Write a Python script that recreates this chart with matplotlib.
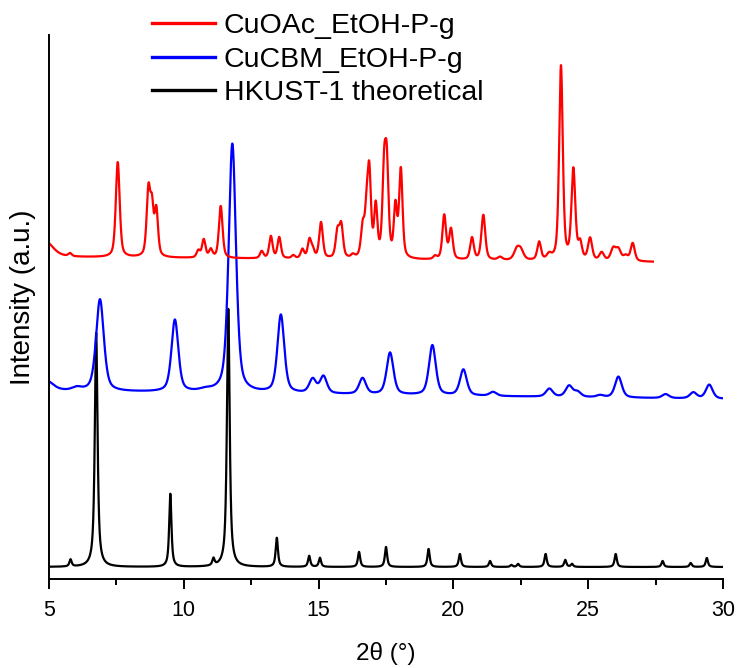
import numpy as np
import matplotlib.pyplot as plt

# =========================
# Peak tables (2theta, height, FWHM)
# heights in plot units (a.u.)
# =========================
labels = ["CuOAc_EtOH-P-g", "CuCBM_EtOH-P-g", "HKUST-1 theoretical"]
colors = ["#ff0000", "#0000ff", "#000000"]
x_end = [27.4, 30.0, 30.0]

# baseline level at 5 deg and at the end of the scan
red_base = [322, 317]
blue_base = [188, 180]
black_base = [12, 12]

red_pos = [4.85, 5.78, 7.55, 8.69, 8.82, 8.98, 10.54, 10.74, 11.0, 11.37,
           12.89, 13.23, 13.54, 14.06, 14.4, 14.66, 14.78, 15.09, 15.7, 15.84,
           16.27, 16.64, 16.78, 16.88, 17.12, 17.43, 17.53, 17.85, 18.05, 19.32,
           19.66, 19.91, 20.69, 21.11, 21.73, 22.35, 22.5, 23.18, 23.55, 23.99,
           24.45, 24.7, 25.07, 25.5, 25.93, 26.12, 26.39, 26.65]
red_h = [16, 3, 95, 66, 44, 46, 7, 18, 8, 52,
         7, 22, 21, 3, 9, 18, 8, 36, 26, 32,
         3, 30, 38, 82, 50, 80, 85, 50, 88, 3,
         44, 30, 22, 45, 3, 10, 9, 18, 5, 194,
         90, 16, 22, 8, 12, 11, 5, 18]
red_w = [0.7, 0.15, 0.17, 0.16, 0.14, 0.15, 0.15, 0.15, 0.15, 0.16,
         0.15, 0.15, 0.15, 0.15, 0.15, 0.15, 0.15, 0.16, 0.16, 0.16,
         0.15, 0.16, 0.14, 0.15, 0.14, 0.15, 0.15, 0.14, 0.15, 0.15,
         0.16, 0.16, 0.16, 0.17, 0.2, 0.25, 0.25, 0.16, 0.2, 0.16,
         0.17, 0.16, 0.18, 0.2, 0.22, 0.22, 0.2, 0.18]

blue_pos = [4.9, 6.03, 6.89, 9.67, 10.8, 11.8, 13.6, 14.78, 15.18, 16.63,
            17.65, 19.22, 20.37, 21.47, 23.56, 24.29, 24.6, 25.44, 26.12, 27.87,
            28.9, 29.49]
blue_h = [10, 3, 92, 72, 2, 249, 78, 14, 17, 16,
          42, 50, 26, 4, 8, 11, 5, 2, 21, 4,
          6, 14]
blue_w = [0.6, 0.4, 0.34, 0.3, 0.5, 0.32, 0.3, 0.3, 0.3, 0.3,
          0.3, 0.3, 0.3, 0.3, 0.3, 0.3, 0.3, 0.3, 0.3, 0.3,
          0.3, 0.3]

black_pos = [5.8, 6.75, 9.5, 11.1, 11.65, 13.45, 14.65, 15.05, 16.5, 17.5,
             19.08, 20.24, 21.36, 22.15, 22.4, 23.42, 24.15, 24.4, 26.02, 27.76,
             28.8, 29.4]
black_h = [7, 234, 73, 7, 258, 29, 11, 9, 15, 20,
           18, 13, 6, 2, 3, 13, 7, 3, 13, 6,
           4, 9]
black_w = [0.1, 0.12, 0.1, 0.1, 0.12, 0.1, 0.1, 0.1, 0.1, 0.1,
           0.1, 0.1, 0.1, 0.1, 0.1, 0.1, 0.1, 0.1, 0.1, 0.1,
           0.1, 0.1]


def profile(x, pos, h, w, base, eta):
    # pseudo-Voigt sum on a linear baseline
    y = base[0] + (base[1] - base[0]) * (x - x[0]) / (x[-1] - x[0])
    for p, a, f in zip(pos, h, w):
        lor = 1.0 / (1.0 + ((x - p) / (f / 2)) ** 2)
        gau = np.exp(-4 * np.log(2) * ((x - p) / f) ** 2)
        y = y + a * (eta * lor + (1 - eta) * gau)
    return y


series = [
    (red_pos, red_h, red_w, red_base, 0.5),
    (blue_pos, blue_h, blue_w, blue_base, 0.5),
    (black_pos, black_h, black_w, black_base, 0.8),
]

plt.rcParams["font.family"] = ["Liberation Sans", "DejaVu Sans"]

fig = plt.figure(figsize=(7.4, 6.68), dpi=100)
ax = fig.add_axes([49 / 740, 89 / 668, 674 / 740, 544 / 668])

lines = []
# black first so the measured patterns sit on top
for i in [2, 1, 0]:
    pos, h, w, base, eta = series[i]
    x = np.linspace(5, x_end[i], int((x_end[i] - 5) * 200) + 1)
    y = profile(x, pos, h, w, base, eta)
    ln, = ax.plot(x, y, color=colors[i], lw=1.6, label=labels[i])
    lines.append(ln)
lines = lines[::-1]

ax.set_xlim(5, 30)
ax.set_ylim(0, 544)
ax.set_yticks([])
ax.set_xticks([5, 10, 15, 20, 25, 30])
ax.set_xticks(np.arange(7.5, 30, 5), minor=True)
ax.tick_params(axis="x", which="major", direction="out", length=7, width=1.4,
               labelsize=15.5, pad=8)
ax.tick_params(axis="x", which="minor", direction="out", length=4, width=1.4)
for s in ["top", "right"]:
    ax.spines[s].set_visible(False)
for s in ["left", "bottom"]:
    ax.spines[s].set_linewidth(1.4)

ax.set_xlabel("2\u03b8 (\u00b0)", fontsize=17.5, labelpad=15)
ax.set_ylabel("Intensity (a.u.)", fontsize=20)
ax.yaxis.set_label_coords(-0.02, 0.518)

leg = fig.legend(handles=lines, labels=labels, loc="upper left",
                 bbox_to_anchor=(152 / 740, 1 - 13 / 668), frameon=False,
                 fontsize=20.5, handlelength=2.2, handletextpad=0.32,
                 labelspacing=0.27, borderpad=0, borderaxespad=0)
for lh in leg.get_lines():
    lh.set_linewidth(2.4)

fig.savefig("out.png", dpi=100)
